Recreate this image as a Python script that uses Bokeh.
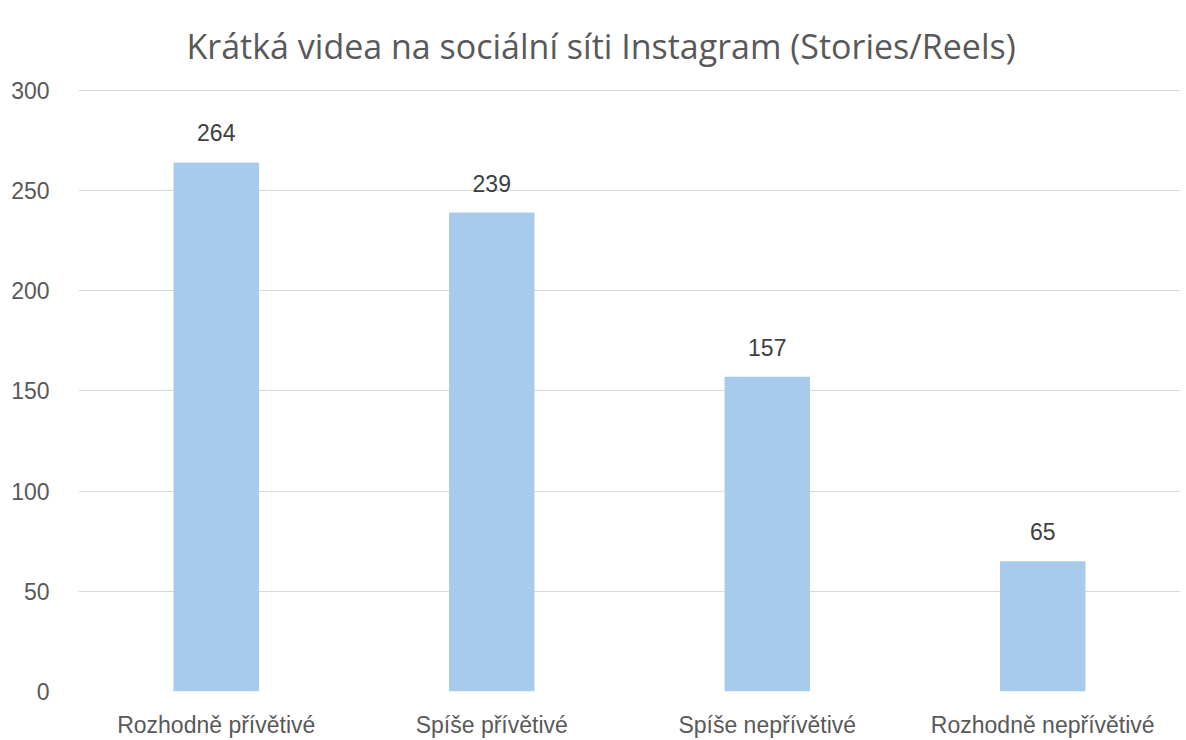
from bokeh.plotting import figure
from bokeh.models import ColumnDataSource, FactorRange, Range1d, LabelSet, Title
from bokeh.core.properties import value
from bokeh.embed import file_html
from bokeh.resources import INLINE

categories = ["Rozhodně přívětivé", "Spíše přívětivé", "Spíše nepřívětivé", "Rozhodně nepřívětivé"]
counts = [264, 239, 157, 65]
y_ticks = [0, 50, 100, 150, 200, 250, 300]
title_text = "Krátká videa na sociální síti Instagram (Stories/Reels)"

src = ColumnDataSource(dict(cat=categories, val=counts, lab=[str(v) for v in counts]))

p = figure(x_range=FactorRange(*categories, range_padding=0), y_range=Range1d(0, 300.4),
           width=1186, height=740, output_backend="svg", toolbar_location=None,
           min_border_left=78, min_border_right=6, min_border_top=89, min_border_bottom=48)
p.title = Title(text=title_text, align="left", vertical_align="top", text_font="Open Sans",
                text_font_size="34px", text_color="#595959", text_font_style="normal",
                offset=108, standoff=38)

p.vbar(x="cat", top="val", width=0.31, source=src, fill_color="#A9CBEB", line_color=None)

labels = LabelSet(x="cat", y="val", text="lab", source=src, text_align="center",
                  text_baseline="alphabetic", y_offset=21,
                  text_font=value("Liberation Sans"), text_font_size="23px", text_color="#404040")
p.add_layout(labels)

p.outline_line_color = None
p.xgrid.grid_line_color = None
p.ygrid.grid_line_color = "#D9D9D9"
p.ygrid.grid_line_width = 1
p.yaxis.ticker = y_ticks
p.yaxis.axis_line_color = None
p.yaxis.major_tick_line_color = None
p.yaxis.minor_tick_line_color = None
p.yaxis.major_label_standoff = 23
p.yaxis.major_label_text_font = "Liberation Sans"
p.yaxis.major_label_text_font_size = "23px"
p.yaxis.major_label_text_color = "#595959"
p.xaxis.axis_line_color = None
p.xaxis.major_tick_line_color = None
p.xaxis.minor_tick_line_color = None
p.xaxis.major_label_standoff = 14
p.xaxis.major_label_text_font = "Liberation Sans"
p.xaxis.major_label_text_font_size = "23px"
p.xaxis.major_label_text_color = "#595959"

open("out.html", "w").write(file_html(p, INLINE))
